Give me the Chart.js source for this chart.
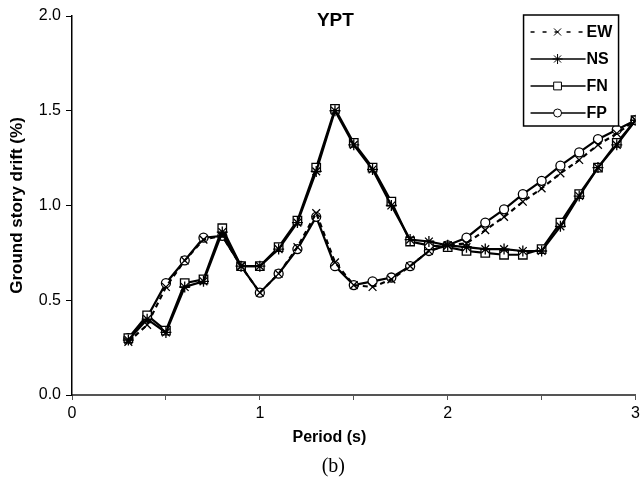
<!DOCTYPE html>
<html>
<head>
<meta charset="utf-8">
<script src="https://cdn.jsdelivr.net/npm/chart.js@4.4.1/dist/chart.umd.min.js"></script>
<style>
  html, body { margin: 0; padding: 0; background: #fff; }
  #wrap { width: 644px; height: 487px; }
</style>
</head>
<body>
<div id="wrap"><canvas id="driftChart" width="644" height="487"></canvas></div>
<script>
// periods (s) and ground story drift (%)
const periods = [0.3, 0.4, 0.5, 0.6, 0.7, 0.8, 0.9, 1.0, 1.1, 1.2, 1.3, 1.4, 1.5, 1.6,
                 1.7, 1.8, 1.9, 2.0, 2.1, 2.2, 2.3, 2.4, 2.5, 2.6, 2.7, 2.8, 2.9, 3.0];
const ewDrift = [0.28, 0.37, 0.57, 0.71, 0.82, 0.84, 0.68, 0.54, 0.64, 0.78, 0.96, 0.70, 0.58, 0.57,
                 0.61, 0.68, 0.76, 0.79, 0.80, 0.87, 0.94, 1.02, 1.09, 1.17, 1.24, 1.32, 1.38, 1.45];
const nsDrift = [0.29, 0.40, 0.33, 0.57, 0.60, 0.86, 0.68, 0.68, 0.77, 0.91, 1.18, 1.50, 1.32, 1.19,
                 1.00, 0.82, 0.81, 0.79, 0.78, 0.77, 0.77, 0.76, 0.76, 0.89, 1.05, 1.20, 1.32, 1.45];
const fnDrift = [0.30, 0.42, 0.34, 0.59, 0.61, 0.88, 0.68, 0.68, 0.78, 0.92, 1.20, 1.51, 1.33, 1.20,
                 1.02, 0.81, 0.79, 0.78, 0.76, 0.75, 0.74, 0.74, 0.77, 0.91, 1.06, 1.20, 1.33, 1.45];
const fpDrift = [0.30, 0.41, 0.59, 0.71, 0.83, 0.84, 0.68, 0.54, 0.64, 0.77, 0.94, 0.68, 0.58, 0.60,
                 0.62, 0.68, 0.76, 0.79, 0.83, 0.91, 0.98, 1.06, 1.13, 1.21, 1.28, 1.35, 1.40, 1.45];
const seriesNames = ['EW', 'NS', 'FN', 'FP'];
const yTicks = [0.0, 0.5, 1.0, 1.5, 2.0];

const pts = arr => arr.map((v, i) => ({ x: periods[i], y: v }));
const FONT = '"Liberation Sans", Arial, sans-serif';

// legend box inside the plot (top right), chart title and captions
const legendBox = {
  id: 'legendBox',
  afterDatasetsDraw(chart) {
    const { ctx, chartArea } = chart;
    const left = chartArea.right - 112, top = chartArea.top - 1;
    const w = 95, h = 111;
    ctx.save();
    ctx.fillStyle = '#fff';
    ctx.fillRect(left, top, w, h);
    ctx.strokeStyle = '#000';
    ctx.lineWidth = 1.5;
    ctx.strokeRect(left, top, w, h);
    chart.data.datasets.forEach((ds, i) => {
      const y = top + 17 + i * 27;
      ctx.strokeStyle = '#000';
      ctx.lineWidth = 1.5;
      ctx.setLineDash(ds.borderDash ? [4, 8] : []);
      ctx.beginPath();
      ctx.moveTo(left + 7, y);
      ctx.lineTo(left + 62, y);
      ctx.stroke();
      ctx.setLineDash([]);
      ctx.fillStyle = '#fff';
      ctx.lineWidth = 1;
      Chart.helpers.drawPoint(ctx, { pointStyle: ds.pointStyle, radius: ds.pointRadius - 0.5, rotation: 0, borderWidth: 1 }, left + 34, y);
      ctx.fillStyle = '#000';
      ctx.font = 'bold 16px ' + FONT;
      ctx.textBaseline = 'middle';
      ctx.fillText(ds.label, left + 63, y + 1);
    });
    ctx.restore();
  },
  afterDraw(chart) {
    const { ctx } = chart;
    const xs = chart.scales.x;
    const mid = xs.getPixelForValue(1.37);
    ctx.save();
    ctx.fillStyle = '#000';
    ctx.textAlign = 'center';
    ctx.textBaseline = 'middle';
    ctx.font = 'bold 19px ' + FONT;
    ctx.fillText('YPT', mid + 6, 21);
    ctx.font = 'bold 16px ' + FONT;
    ctx.fillText('Period (s)', mid, 438);
    ctx.font = '20px "Liberation Serif", "Times New Roman", serif';
    ctx.fillText('(b)', mid + 4, 467);
    ctx.restore();
  }
};

const common = { borderColor: '#000', pointBorderColor: '#000', pointBackgroundColor: '#fff',
                 borderWidth: 2.2, pointBorderWidth: 1.3, fill: false, tension: 0 };

new Chart(document.getElementById('driftChart').getContext('2d'), {
  type: 'line',
  data: {
    datasets: [
      { ...common, label: seriesNames[0], data: pts(ewDrift), borderDash: [5, 4], pointStyle: 'crossRot', pointRadius: 5.5 },
      { ...common, label: seriesNames[1], data: pts(nsDrift), pointStyle: 'star', pointRadius: 5.5 },
      { ...common, label: seriesNames[2], data: pts(fnDrift), pointStyle: 'rect', pointRadius: 6 },
      { ...common, label: seriesNames[3], data: pts(fpDrift), pointStyle: 'circle', pointRadius: 4.5 }
    ]
  },
  options: {
    responsive: false,
    animation: false,
    devicePixelRatio: 1,
    layout: { padding: { top: 16, right: 4, bottom: 62, left: 0 } },
    plugins: { legend: { display: false }, tooltip: { enabled: false } },
    scales: {
      x: {
        type: 'linear',
        min: 0, max: 3,
        afterFit: s => { s.height = 30; },
        ticks: {
          stepSize: 0.5,
          autoSkip: false,
          maxRotation: 0,
          padding: 4,
          color: '#000',
          font: { family: FONT, size: 16 },
          callback: v => (Number.isInteger(v) ? String(v) : '')
        },
        grid: { drawOnChartArea: false, tickLength: 5, color: '#555' },
        border: { color: '#555', width: 2 }
      },
      y: {
        min: 0, max: 2,
        afterFit: s => { s.width = 72; },
        afterBuildTicks: s => { s.ticks = yTicks.map(v => ({ value: v })); },
        ticks: {
          padding: 5,
          color: '#000',
          font: { family: FONT, size: 16 },
          callback: v => v.toFixed(1)
        },
        grid: { drawOnChartArea: false, tickLength: 6, color: '#000' },
        border: { color: '#000', width: 1.5 },
        title: { display: true, text: 'Ground story drift (%)', color: '#000', padding: { top: 7 },
                 font: { family: FONT, size: 17, weight: 'bold' } }
      }
    }
  },
  plugins: [legendBox]
});
</script>
</body>
</html>
